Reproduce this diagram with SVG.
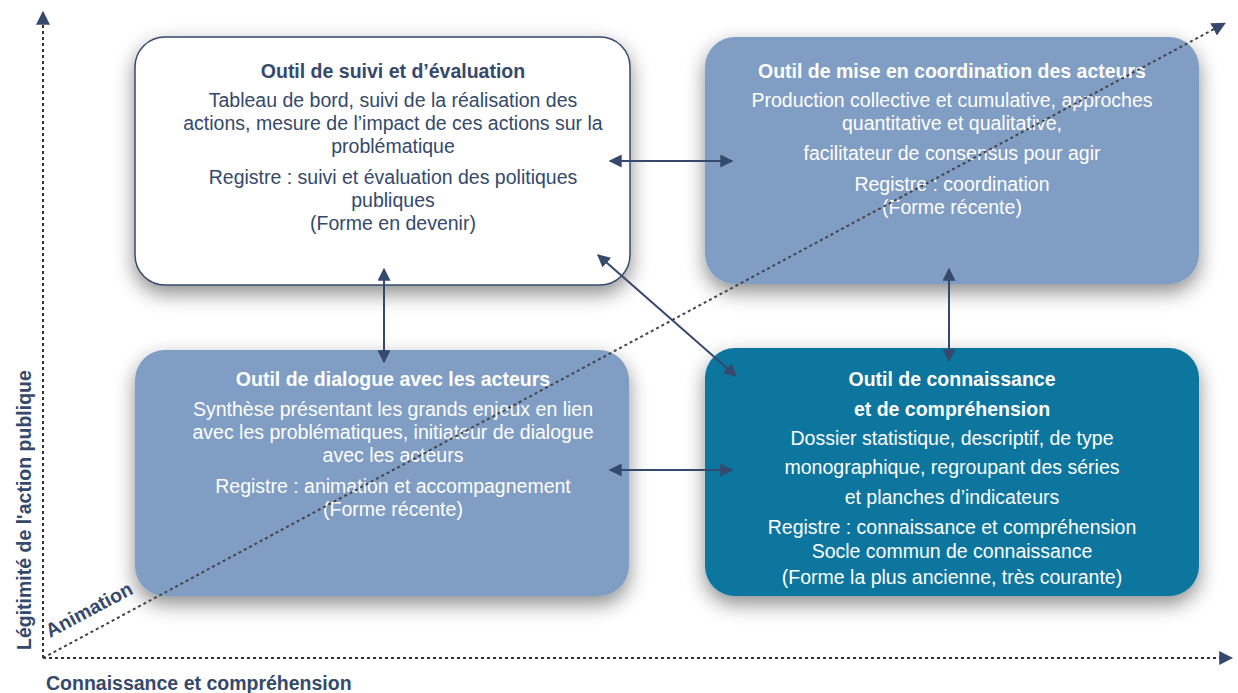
<svg xmlns="http://www.w3.org/2000/svg" width="1238" height="693" viewBox="0 0 1238 693">
<defs>
<filter id="sh" x="-20%" y="-20%" width="140%" height="150%">
<feDropShadow dx="0" dy="8" stdDeviation="10" flood-color="#000" flood-opacity="0.45"/>
</filter>
<marker id="ah" viewBox="0 0 10 10" refX="9" refY="5" markerWidth="13" markerHeight="13" markerUnits="userSpaceOnUse" orient="auto-start-reverse">
<path d="M0,0 L10,5 L0,10 z" fill="#34496b"/>
</marker>
<marker id="ax" viewBox="0 0 10 10" refX="2" refY="5" markerWidth="14" markerHeight="14" markerUnits="userSpaceOnUse" orient="auto">
<path d="M0,0 L10,5 L0,10 z" fill="#34496b"/>
</marker>
<style>
.t{font-family:"Liberation Sans",Arial,sans-serif;font-size:19.5px;text-anchor:middle}
.b{font-weight:bold}
.d{fill:#34496b}
.w{fill:#ffffff}
.lab{font-family:"Liberation Sans",Arial,sans-serif;font-size:19.5px;font-weight:bold;fill:#34496b}
.conn{stroke:#34496b;stroke-width:2;fill:none}
.axis{stroke:#333;stroke-width:2;stroke-dasharray:3 3;fill:none}
</style>
</defs>
<rect width="1238" height="693" fill="#fff"/>
<g id="axes">
<line class="axis" x1="43" y1="658" x2="43" y2="22" marker-end="url(#ax)"/>
<line class="axis" x1="43" y1="658" x2="1222" y2="658" marker-end="url(#ax)"/>
</g>
<g id="node-tl">
<rect x="135" y="37" width="495" height="248" rx="30" fill="#fff" stroke="#34496b" stroke-width="1.5" filter="url(#sh)"/>
<text class="t b d" x="393" y="78">Outil de suivi et d’évaluation</text>
<text class="t d" x="393" y="107">Tableau de bord, suivi de la réalisation des</text>
<text class="t d" x="393" y="130">actions, mesure de l’impact de ces actions sur la</text>
<text class="t d" x="393" y="153">problématique</text>
<text class="t d" x="393" y="184">Registre : suivi et évaluation des politiques</text>
<text class="t d" x="393" y="207">publiques</text>
<text class="t d" x="393" y="230">(Forme en devenir)</text>
</g>
<g id="node-tr">
<rect x="705" y="37" width="494" height="247" rx="30" fill="#809dc4" filter="url(#sh)"/>
<text class="t b w" x="952" y="78">Outil de mise en coordination des acteurs</text>
<text class="t w" x="952" y="107">Production collective et cumulative, approches</text>
<text class="t w" x="952" y="130">quantitative et qualitative,</text>
<text class="t w" x="952" y="160">facilitateur de consensus pour agir</text>
<text class="t w" x="952" y="191">Registre : coordination</text>
<text class="t w" x="952" y="214">(Forme récente)</text>
</g>
<g id="node-bl">
<rect x="135" y="350" width="494" height="246" rx="30" fill="#809dc4" filter="url(#sh)"/>
<text class="t b w" x="393" y="386">Outil de dialogue avec les acteurs</text>
<text class="t w" x="393" y="416">Synthèse présentant les grands enjeux en lien</text>
<text class="t w" x="393" y="439">avec les problématiques, initiateur de dialogue</text>
<text class="t w" x="393" y="462">avec les acteurs</text>
<text class="t w" x="393" y="493">Registre : animation et accompagnement</text>
<text class="t w" x="393" y="516">(Forme récente)</text>
</g>
<g id="node-br">
<rect x="705" y="348" width="494" height="248" rx="30" fill="#09769f" filter="url(#sh)"/>
<text class="t b w" x="952" y="386">Outil de connaissance</text>
<text class="t b w" x="952" y="416">et de compréhension</text>
<text class="t w" x="952" y="445">Dossier statistique, descriptif, de type</text>
<text class="t w" x="952" y="474">monographique, regroupant des séries</text>
<text class="t w" x="952" y="504">et planches d’indicateurs</text>
<text class="t w" x="952" y="534">Registre : connaissance et compréhension</text>
<text class="t w" x="952" y="558">Socle commun de connaissance</text>
<text class="t w" x="952" y="584">(Forme la plus ancienne, très courante)</text>
</g>
<g id="diagonal">
<line x1="43" y1="658" x2="1216" y2="28" stroke="#444" stroke-width="2" stroke-dasharray="3 3" marker-end="url(#ax)"/>
</g>
<g id="connectors">
<line class="conn" x1="610" y1="161" x2="732" y2="161" marker-start="url(#ah)" marker-end="url(#ah)"/>
<line class="conn" x1="610" y1="470" x2="732" y2="470" marker-start="url(#ah)" marker-end="url(#ah)"/>
<line class="conn" x1="384" y1="269" x2="384" y2="362" marker-start="url(#ah)" marker-end="url(#ah)"/>
<line class="conn" x1="949" y1="269" x2="949" y2="361" marker-start="url(#ah)" marker-end="url(#ah)"/>
<line class="conn" x1="598" y1="255" x2="736" y2="376" marker-start="url(#ah)" marker-end="url(#ah)"/>
</g>
<g id="labels">
<text class="lab" x="0" y="0" transform="translate(31,650) rotate(-90)">Légitimité de l'action publique</text>
<text class="lab" x="46" y="690">Connaissance et compréhension</text>
<text class="lab" x="0" y="0" transform="translate(50,638) rotate(-28)">Animation</text>
</g>
</svg>
